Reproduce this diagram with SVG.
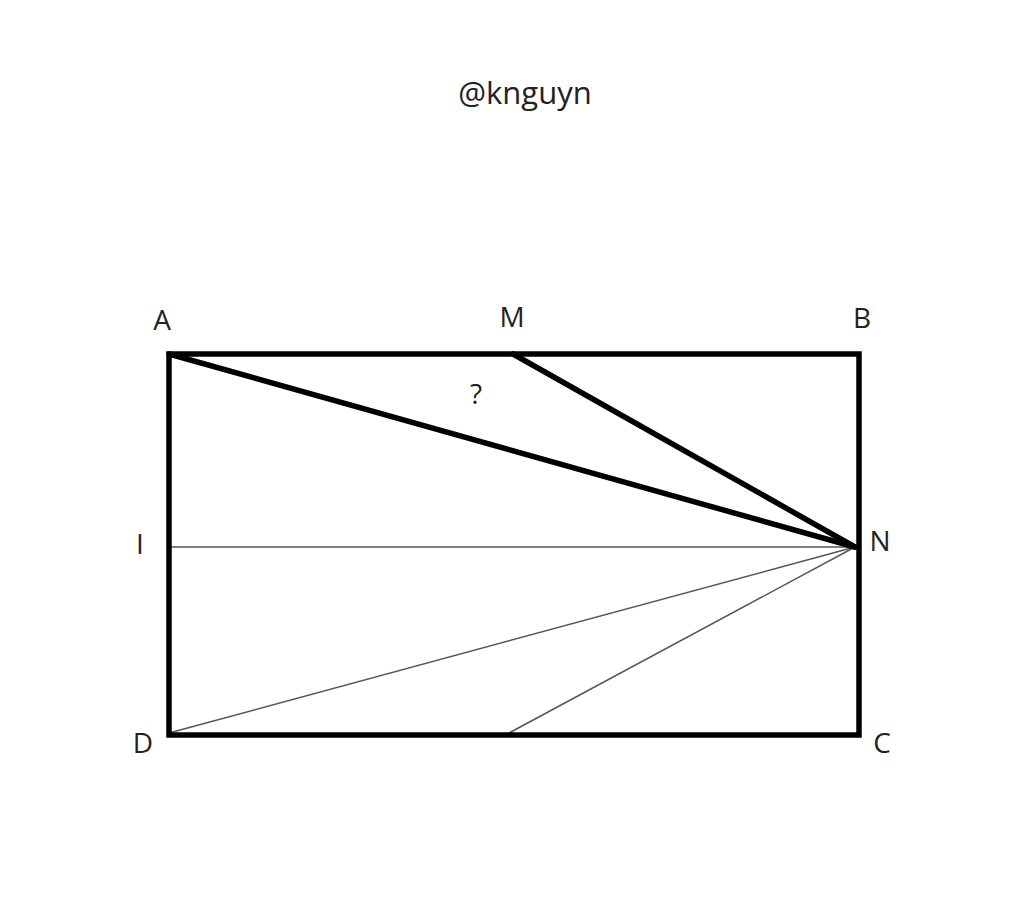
<svg xmlns="http://www.w3.org/2000/svg" width="1024" height="909" viewBox="0 0 1024 909">
<style>
.thick{stroke:#000;stroke-width:5.5;stroke-linecap:round;fill:none}
.thin{stroke:#555;stroke-width:1.5;fill:none}
.lbl{font-family:"Open Sans","Noto Sans",sans-serif;font-size:28px;fill:#222;text-anchor:middle}
.title{font-size:31px}
</style>
<rect width="1024" height="909" fill="#fff"/>
<text class="lbl title" x="525" y="104">@knguyn</text>
<g id="connectors">
<line class="thin" x1="169" y1="547" x2="855" y2="547"/>
<line class="thin" x1="169" y1="733" x2="855" y2="547"/>
<line class="thin" x1="509" y1="733" x2="855" y2="547"/>
<rect class="thick" x="169" y="354" width="690" height="381"/>
<line class="thick" x1="169" y1="354" x2="855" y2="547"/>
<line class="thick" x1="513" y1="354" x2="855" y2="547"/>
</g>
<g id="A"><text class="lbl" x="162" y="330">A</text></g>
<g id="M"><text class="lbl" x="512" y="327">M</text></g>
<g id="B"><text class="lbl" x="862" y="328">B</text></g>
<g id="I"><text class="lbl" x="140" y="554">I</text></g>
<g id="N"><text class="lbl" x="880" y="551">N</text></g>
<g id="D"><text class="lbl" x="143" y="753">D</text></g>
<g id="C"><text class="lbl" x="882" y="753">C</text></g>
<g id="Q"><text class="lbl" x="476" y="404">?</text></g>
</svg>
